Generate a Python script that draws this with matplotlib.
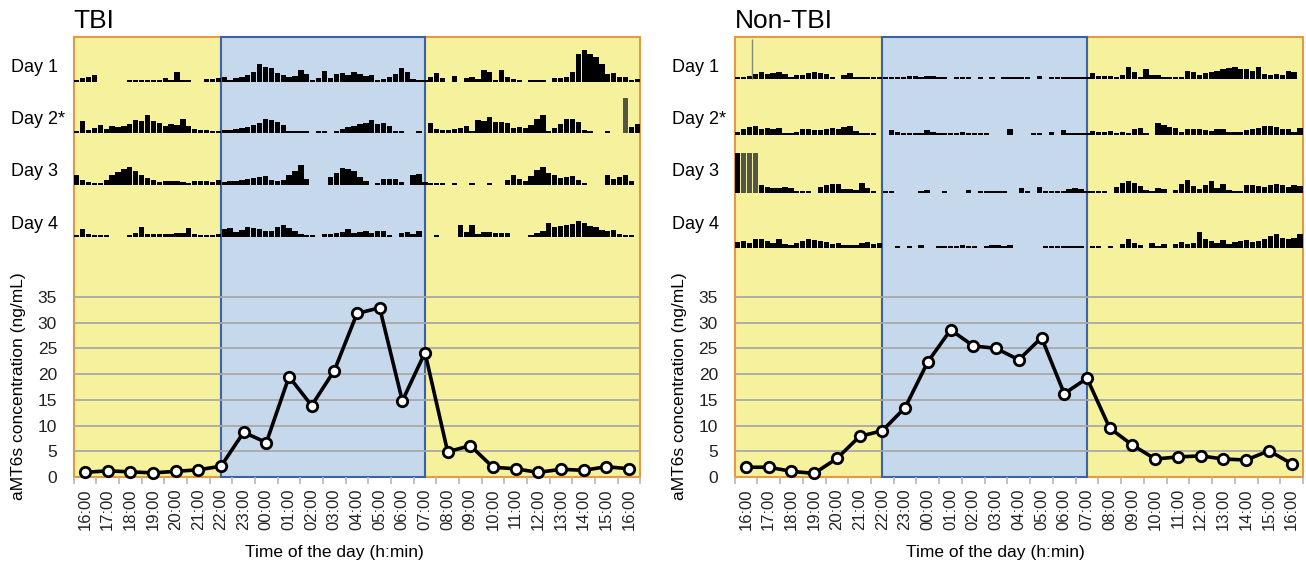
"""
aMT6s concentration over 24 h (TBI vs Non-TBI) with 4-day actigraphy strips
drawn on top of the light (yellow) / dark (blue) period background.
"""
import matplotlib.pyplot as plt
import numpy as np

plt.rcParams["font.family"] = ["Liberation Sans", "DejaVu Sans"]

# ---------------------------------------------------------------- data
hours = ["16:00", "17:00", "18:00", "19:00", "20:00", "21:00", "22:00", "23:00",
         "00:00", "01:00", "02:00", "03:00", "04:00", "05:00", "06:00", "07:00",
         "08:00", "09:00", "10:00", "11:00", "12:00", "13:00", "14:00", "15:00",
         "16:00"]

tbi_amt6s = [0.9, 1.2, 1.0, 0.8, 1.1, 1.4, 2.1, 8.7, 6.7, 19.5, 13.9, 20.7, 31.8,
             32.9, 14.8, 24.2, 4.9, 6.1, 1.9, 1.6, 0.9, 1.5, 1.3, 2.0, 1.6]
nontbi_amt6s = [1.9, 1.9, 1.1, 0.7, 3.6, 7.9, 9.0, 13.5, 22.4, 28.6, 25.5, 25.0,
                22.8, 27.1, 16.2, 19.2, 9.5, 6.2, 3.5, 3.9, 4.1, 3.5, 3.3, 5.1, 2.6]

day_labels = ["Day 1", "Day 2*", "Day 3", "Day 4"]

# actigraphy, 15-min bins over the 24 h strip (activity height in px)
tbi_day1 = [1, 4, 5, 7, 0, 0, 0, 0, 0, 1, 1, 1, 1, 1, 2, 4, 2, 10, 1, 1,
            0, 0, 3, 3, 4, 5, 2, 4, 5, 7, 10, 18, 15, 14, 9, 7, 5, 6, 12, 8,
            1, 4, 11, 4, 8, 9, 7, 10, 8, 6, 7, 1, 3, 5, 8, 14, 10, 3, 1, 1,
            5, 9, 4, 0, 6, 0, 4, 5, 3, 12, 10, 2, 12, 5, 3, 1, 0, 1, 2, 2,
            0, 4, 4, 5, 10, 28, 32, 28, 25, 18, 8, 9, 5, 5, 1, 3]
tbi_day2 = [2, 12, 3, 5, 8, 4, 7, 6, 7, 9, 13, 12, 18, 12, 10, 7, 9, 8, 14, 7,
            4, 3, 3, 1, 2, 3, 3, 4, 5, 6, 8, 10, 14, 13, 11, 8, 1, 1, 1, 1,
            0, 1, 1, 0, 1, 4, 6, 7, 9, 10, 13, 9, 10, 7, 1, 1, 0, 0, 1, 0,
            10, 4, 3, 3, 4, 5, 7, 1, 13, 12, 16, 11, 11, 10, 5, 6, 5, 8, 14, 18,
            1, 5, 9, 14, 14, 11, 3, 1, 0, 0, 1, 0, 0, 35, 6, 9]
tbi_day3 = [10, 5, 3, 2, 1, 5, 10, 13, 16, 18, 14, 10, 7, 5, 3, 4, 4, 4, 3, 2,
            4, 4, 4, 3, 5, 3, 4, 4, 5, 6, 7, 8, 9, 5, 4, 5, 10, 14, 20, 6,
            0, 0, 0, 8, 12, 17, 16, 14, 8, 4, 0, 2, 6, 6, 6, 3, 0, 10, 11, 3,
            1, 1, 1, 0, 1, 0, 0, 2, 0, 0, 1, 0, 0, 5, 10, 6, 4, 9, 15, 18,
            12, 10, 7, 8, 9, 5, 1, 0, 0, 0, 10, 6, 8, 10, 4, 0]
tbi_day4 = [1, 8, 3, 1, 1, 1, 0, 0, 0, 2, 4, 10, 3, 3, 3, 3, 3, 4, 4, 9,
            3, 1, 1, 1, 3, 8, 9, 5, 7, 10, 9, 8, 6, 6, 10, 12, 9, 6, 3, 1,
            1, 0, 3, 3, 4, 5, 8, 4, 5, 6, 4, 6, 6, 2, 0, 4, 5, 3, 6, 0,
            0, 1, 0, 0, 0, 12, 5, 12, 3, 5, 5, 4, 4, 4, 0, 0, 0, 1, 4, 6,
            14, 10, 11, 12, 13, 16, 14, 11, 10, 7, 6, 7, 3, 1, 1, 0]

nontbi_day1 = [1, 1, 3, 5, 7, 5, 6, 7, 5, 2, 4, 4, 6, 7, 6, 5, 2, 0, 4, 6,
               1, 1, 1, 1, 1, 1, 1, 1, 2, 3, 3, 2, 3, 3, 2, 2, 0, 1, 1, 2,
               0, 1, 0, 1, 0, 1, 1, 2, 1, 1, 0, 3, 0, 1, 1, 1, 1, 2, 2, 1,
               6, 3, 3, 3, 1, 4, 12, 7, 1, 10, 4, 4, 1, 1, 1, 1, 8, 7, 4, 6,
               7, 8, 10, 11, 12, 10, 10, 8, 12, 5, 4, 5, 4, 8, 7, 0]
nontbi_day2 = [3, 6, 8, 9, 6, 7, 6, 7, 2, 2, 3, 6, 6, 5, 5, 6, 7, 6, 8, 9,
               4, 1, 1, 1, 0, 0, 5, 3, 1, 1, 1, 2, 5, 3, 1, 1, 1, 1, 3, 1,
               1, 1, 1, 0, 0, 0, 6, 0, 0, 0, 1, 1, 0, 3, 0, 5, 1, 1, 1, 1,
               4, 3, 3, 4, 1, 3, 2, 6, 7, 1, 0, 12, 10, 8, 7, 3, 6, 6, 6, 5,
               4, 6, 6, 3, 3, 3, 5, 6, 7, 9, 9, 8, 6, 6, 3, 7]
nontbi_day3 = [40, 40, 40, 40, 8, 6, 5, 5, 6, 5, 2, 1, 1, 0, 6, 8, 9, 9, 4, 4,
               3, 10, 5, 1, 0, 1, 2, 0, 0, 0, 0, 1, 3, 0, 0, 2, 0, 0, 0, 3,
               0, 1, 1, 1, 1, 1, 0, 0, 5, 1, 0, 6, 1, 2, 2, 2, 4, 5, 4, 2,
               1, 1, 1, 0, 6, 10, 12, 10, 7, 3, 1, 5, 4, 0, 3, 9, 13, 7, 4, 8,
               12, 5, 9, 3, 2, 2, 8, 8, 7, 6, 8, 9, 8, 6, 8, 7]
nontbi_day4 = [6, 7, 5, 9, 9, 7, 5, 9, 4, 3, 5, 7, 9, 8, 7, 6, 4, 5, 3, 3,
               3, 5, 6, 4, 5, 0, 0, 1, 0, 1, 0, 3, 0, 0, 1, 1, 2, 1, 3, 1,
               1, 0, 1, 3, 3, 1, 3, 0, 0, 0, 0, 0, 1, 1, 1, 2, 1, 1, 2, 0,
               2, 1, 0, 1, 0, 4, 9, 5, 3, 0, 5, 1, 4, 0, 4, 6, 4, 5, 16, 9,
               7, 5, 8, 4, 6, 7, 8, 6, 7, 9, 12, 14, 10, 9, 10, 14]

# saturated / off-wrist bins shown in grey in the original strips
tbi_grey_bins = {1: [93]}
nontbi_grey_bins = {2: [1, 2, 3]}
nontbi_spike = (0, 2.9, 40)   # thin grey spike: day index, bin, height

# ---------------------------------------------------------------- style
W, H = 1306, 566
YELLOW = "#f6f19c"
BLUE = "#c6d8ec"
ORANGE = "#e39a45"
NAVY = "#3c62a6"
GRID = "#a8a8a8"
PX_PER_UNIT = 180 / 35.0     # y scale of the concentration axis
LABEL_Y = [68, 120, 172, 225]  # pixel rows of the "Day n" labels


def px_box(x0, y0, x1, y1):
    return [x0 / W, 1 - y1 / H, (x1 - x0) / W, (y1 - y0) / H]


def draw_panel(fig, title, x0, x1, values, days, baselines, grey_bins,
               spike=None):
    top, bottom = 37, 477
    n = len(hours)
    ax = fig.add_axes(px_box(x0, top, x1, bottom))
    ax.set_xlim(-0.5, n - 0.5)
    ax.set_ylim(0, (bottom - top) / PX_PER_UNIT)

    light = dict(edgecolor=ORANGE, facecolor=YELLOW, lw=1.5, zorder=0)
    for span in [(-0.5, 6), (15, n - 0.5)]:
        p = ax.axvspan(*span, **light)
        p.set_clip_on(False)
    p = ax.axvspan(6, 15, facecolor=BLUE, edgecolor=NAVY, lw=1.5, zorder=0.5)
    p.set_clip_on(False)

    ax.hlines(np.arange(5, 40, 5), -0.5, n - 0.5, color=GRID, lw=1.3, zorder=1)
    ax.plot(np.arange(n), values, color="black", lw=2.6, marker="o", ms=7.5,
            mfc="white", mec="black", mew=2, zorder=5, clip_on=False)

    for s in ax.spines.values():
        s.set_visible(False)
    ax.set_yticks(np.arange(0, 40, 5))
    ax.set_xticks(np.arange(n))
    ax.set_xticklabels(hours, rotation=90)
    ax.set_xticks(np.arange(-0.5, n, 1), minor=True)
    ax.tick_params(axis="y", length=0, pad=12, labelsize=12.5, colors="#222222")
    ax.tick_params(axis="x", which="major", length=0, pad=8, labelsize=12,
                   colors="#222222")
    ax.tick_params(axis="x", which="minor", length=5, width=1.2, color="#b5b5b5")

    fig.text(x0 / W, 1 - 21 / H, title, fontsize=19, ha="left", va="center")
    fig.text((x0 - 55) / W, 1 - 386 / H, "aMT6s concentration (ng/mL)",
             rotation=90, fontsize=12.5, ha="center", va="center")
    fig.text((x0 + 261) / W, 1 - 553 / H, "Time of the day (h:min)",
             fontsize=12.5, ha="center", va="center")

    # actigraphy strips in a pixel-scaled overlay
    act = fig.add_axes(px_box(x0, top, x1, bottom))
    act.set_xlim(0, 96)
    act.set_ylim(0, bottom - top)
    act.axis("off")
    for i, (trace, base) in enumerate(zip(days, baselines)):
        h = np.asarray(trace, dtype=float)
        h = np.where(h == 1, 1.6, h)
        colors = ["#555544" if b in grey_bins.get(i, []) else "black"
                  for b in range(len(h))]
        act.bar(np.arange(len(h)) + 0.05, h, width=0.9, bottom=base,
                align="edge", color=colors, lw=0)
        fig.text((x0 - 63) / W, 1 - LABEL_Y[i] / H, day_labels[i],
                 fontsize=13, ha="left", va="center")
    if spike is not None:
        d, b, hgt = spike
        act.vlines(b, baselines[d], baselines[d] + hgt, color="#888877", lw=1)
    return ax


fig = plt.figure(figsize=(W / 100, H / 100), dpi=100)
draw_panel(fig, "TBI", 73.7, 640.3, tbi_amt6s,
           [tbi_day1, tbi_day2, tbi_day3, tbi_day4],
           [395, 344, 292, 240], tbi_grey_bins)
draw_panel(fig, "Non-TBI", 734.6, 1303, nontbi_amt6s,
           [nontbi_day1, nontbi_day2, nontbi_day3, nontbi_day4],
           [398, 342, 284, 229], nontbi_grey_bins, spike=nontbi_spike)

fig.savefig("out.png", dpi=100)
